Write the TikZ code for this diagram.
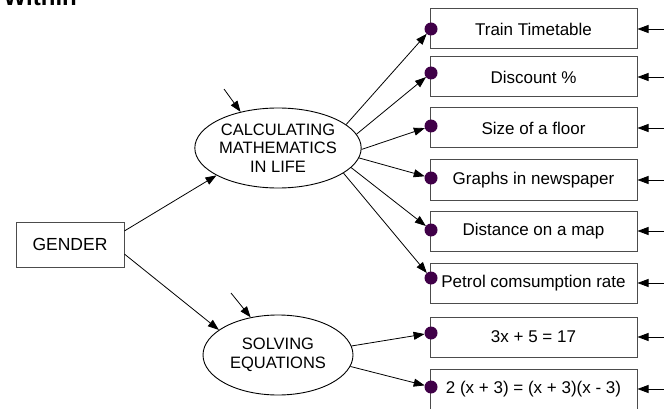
\documentclass[tikz,border=0pt]{standalone}
\usepackage{fontspec}
\setmainfont{Liberation Sans}
\usetikzlibrary{arrows.meta,shapes.geometric}
\definecolor{dotc}{RGB}{64,0,72}
\begin{document}
\begin{tikzpicture}[x=1pt,y=-1pt,
  box/.style={draw=black!70, line width=1pt, minimum width=207pt, minimum height=40pt, inner sep=0pt, font=\fontsize{17}{20}\selectfont},
  lat/.style={ellipse, draw, line width=0.9pt, minimum width=150pt, minimum height=80pt, inner sep=0pt, align=center, font=\fontsize{16.5}{18.5}\selectfont},
  gbox/.style={draw=black!70, line width=1pt, minimum width=108pt, minimum height=45pt, inner sep=0pt, font=\fontsize{17.5}{20}\selectfont},
  dotn/.style={circle, fill=dotc, minimum size=13pt, inner sep=0pt, outer sep=0pt},
  arr/.style={-{Triangle[length=11pt,width=8pt]}, line width=0.8pt},
  ln/.style={line width=0.8pt}]
\useasboundingbox (0,0) rectangle (664,409);

\node[anchor=base east, inner sep=0pt, font=\fontsize{24}{24}\selectfont\bfseries] (title) at (77,6) {Within};

\node[gbox] (gender) at (70,244.5) {GENDER};
\node[lat] (calc) at (278,148) {CALCULATING\\MATHEMATICS\\IN LIFE};
\node[lat] (solve) at (278,355) {SOLVING\\EQUATIONS};

\node[box] (b1) at (533.5,29) {Train Timetable};
\node[box] (b2) at (533.5,77) {Discount \%};
\node[box] (b3) at (533.5,128) {Size of a floor};
\node[box] (b4) at (533.5,180) {Graphs in newspaper};
\node[box] (b5) at (533.5,231) {Distance on a map};
\node[box] (b6) at (533.5,283) {Petrol comsumption rate};
\node[box] (b7) at (533.5,337) {3x + 5 = 17};
\node[box] (b8) at (533.5,389) {2 (x + 3) = (x + 3)(x - 3)};

\node[dotn] (d1) at (431,29) {};
\node[dotn] (d2) at (431,73) {};
\node[dotn] (d3) at (431,126) {};
\node[dotn] (d4) at (431,178) {};
\node[dotn] (d5) at (431,230) {};
\node[dotn] (d6) at (431,278) {};
\node[dotn] (d7) at (431,333) {};
\node[dotn] (d8) at (431,387) {};

% gender to latents
\draw[arr] (gender.14.5) -- (calc.-156);
\draw[arr] (gender.-10.5) -- (solve.157);

% residual arrows into latents
\coordinate (e1) at (224,89);
\coordinate (e2) at (231,293);
\draw[arr] (e1) -- (calc.136);
\draw[arr] (e2) -- (solve.126);

% latent to indicators
\draw[arr] (calc.19.5) -- (d1);
\draw[arr] (calc.10) -- (d2);
\draw[arr] (calc.-1.5) -- (d3);
\draw[arr] (calc.-7.7) -- (d4);
\draw[arr] (calc.-15.8) -- (d5);
\draw[arr] (calc.-21) -- (d6);
\draw[arr] (solve.7) -- (d7);
\draw[arr] (solve.-9) -- (d8);

% error arrows on the right
\foreach \i/\y in {1/29,2/77,3/128,4/180,5/231,6/283,7/337,8/389}{
  \coordinate (r\i) at (664,\y);
  \draw[arr] (r\i) -- (b\i.east);
}
\end{tikzpicture}
\end{document}
